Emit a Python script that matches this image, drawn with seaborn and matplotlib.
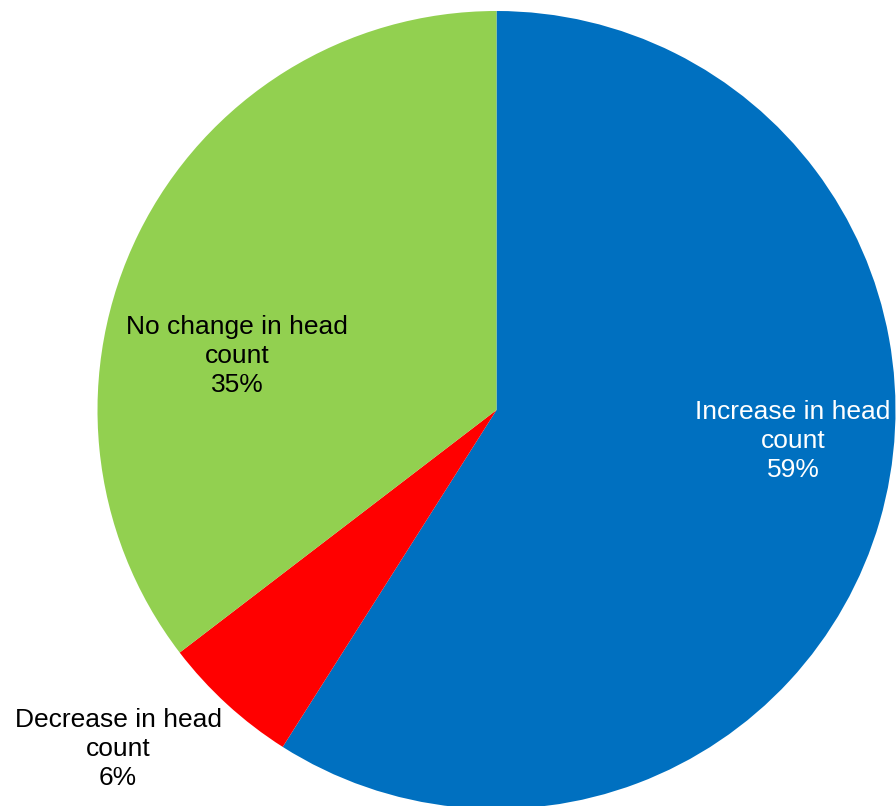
import matplotlib
matplotlib.use("Agg")
import matplotlib.pyplot as plt
import seaborn as sns

sns.set_theme(style="white")
plt.rcParams['font.family'] = ['Liberation Sans', 'DejaVu Sans']

categories = ["Increase in head\ncount", "Decrease in head\ncount", "No change in head\ncount"]
values = [59.0, 5.6, 35.4]
colors = ["#0070C0", "#FF0000", "#92D050"]
text_colors = ["white", "black", "black"]
label_pos = [(793, 441), (118, 749), (237, 356)]

W, H = 896, 806
fig = plt.figure(figsize=(W / 100, H / 100), dpi=100)
ax = fig.add_axes([0, 0, 1, 1])

ax.pie(values, colors=colors, startangle=90, counterclock=False,
       center=(496.5, H - 410), radius=399,
       wedgeprops=dict(linewidth=0), frame=True)
ax.set_xlim(0, W)
ax.set_ylim(0, H)
ax.set_aspect("equal")
ax.axis("off")

for cat, v, tc, (x, y) in zip(categories, values, text_colors, label_pos):
    ax.text(x, H - y, f"{cat}\n{v:.0f}%", ha="center", va="center", color=tc,
            fontsize=19, linespacing=1.27)

fig.savefig("out.png", dpi=100)
